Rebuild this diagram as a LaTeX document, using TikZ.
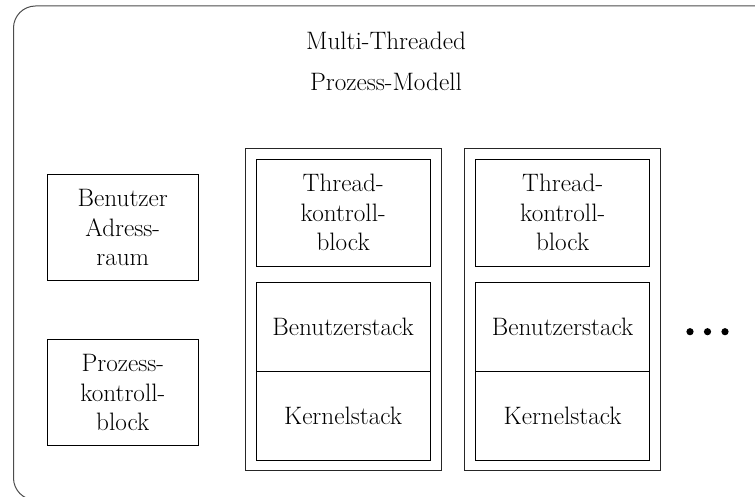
\documentclass[tikz,border=0pt]{standalone}
\usepackage{fontspec}
\begin{document}
\begin{tikzpicture}[x=1pt,y=-1pt,
  lbl/.style={font=\rmfamily\fontsize{25.2}{29.5}\selectfont, align=center, inner sep=0pt},
  box/.style={draw=black, line width=1pt, inner sep=0pt, lbl},
  frame/.style={draw=black!85, line width=1pt}]
\useasboundingbox (0,0) rectangle (755,497);
\clip (0,0) rectangle (755,497);
% outer rounded frame
\draw[draw=black!70, line width=1pt, rounded corners=22pt] (13.5,6) rectangle (800,500);
% title
\node[lbl, anchor=base] (t1) at (386,50) {Multi-Threaded};
\node[lbl, anchor=base] (t2) at (386,90.5) {Prozess-Modell};
% left boxes
\node[box, minimum width=150.5pt, minimum height=106.4pt] (bar) at (122.75,227.5) {Benutzer\\Adress-\\raum};
\node[box, minimum width=150.5pt, minimum height=106.7pt] (pkb) at (122.75,392.6) {Prozess-\\kontroll-\\block};
% thread columns
\foreach \i/\dx in {1/0,2/219.5}{
  \node[frame, minimum width=196pt, minimum height=321pt, inner sep=0pt] (col\i) at (343+\dx,309.5) {};
  \node[box, minimum width=174.3pt, minimum height=106.7pt] (tkb\i) at (343.15+\dx,212.65) {Thread-\\kontroll-\\block};
  \node[box, minimum width=174.3pt, minimum height=89pt] (bs\i) at (343.15+\dx,327.2) {Benutzerstack};
  \node[box, minimum width=174.3pt, minimum height=89pt] (ks\i) at (343.15+\dx,416.2) {Kernelstack};
}
% dots
\foreach \j/\x in {1/690,2/707.5,3/725}{
  \fill[black] (\x,331.7) circle (3.6pt) coordinate (dot\j);
}
\end{tikzpicture}
\end{document}
